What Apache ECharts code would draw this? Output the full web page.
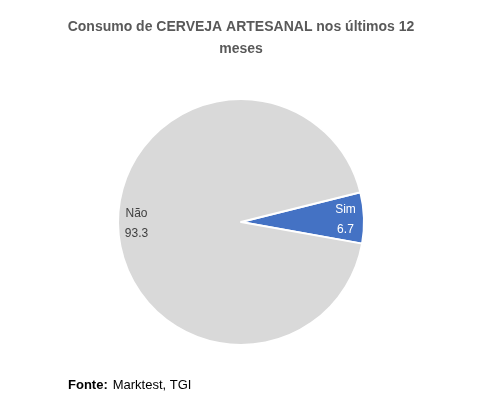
<!DOCTYPE html>
<html>
<head>
<meta charset="utf-8">
<script src="https://cdn.jsdelivr.net/npm/echarts@6/dist/echarts.min.js"></script>
<style>html,body{margin:0;padding:0;background:#fff}#c{width:482px;height:403px}</style>
</head>
<body>
<div id="c"></div>
<script>
var categories = ['Sim', 'Não'];
var values = [6.7, 93.3];
var colors = ['#4472C4', '#D9D9D9'];
var labelColors = ['#FFFFFF', '#404040'];
var titleText = 'Consumo de CERVEJA ARTESANAL nos últimos 12\nmeses';

var chart = echarts.init(document.getElementById('c'), null, {renderer: 'canvas'});
var data = categories.map(function (c, i) {
  return {
    name: c, value: values[i],
    itemStyle: {color: colors[i]},
    label: {color: labelColors[i]}
  };
});
chart.setOption({
  animation: false,
  backgroundColor: '#fff',
  title: [{
    text: titleText,
    left: 'center',
    top: 11,
    textStyle: {fontFamily: 'Liberation Sans', fontSize: 14, fontWeight: 'bold', color: '#595959', lineHeight: 22}
  }, {
    text: '{b|Fonte:} {n|Marktest, TGI}',
    left: 63,
    top: 371,
    textStyle: {
      fontWeight: 'normal',
      rich: {
        b: {fontFamily: 'Liberation Sans', fontSize: 13, fontWeight: 'bold', color: '#000'},
        n: {fontFamily: 'Liberation Sans', fontSize: 13, fontWeight: 'normal', color: '#000'}
      }
    }
  }],
  series: [{
    type: 'pie',
    center: [241, 222],
    radius: 123,
    startAngle: 14,
    clockwise: true,
    data: data,
    itemStyle: {borderColor: '#fff', borderWidth: 2},
    label: {
      show: true,
      position: 'inside',
      formatter: '{b}\n{c}',
      fontFamily: 'Liberation Sans',
      fontSize: 12,
      lineHeight: 20
    },
    labelLayout: function (p) {
      return {dx: p.dataIndex === 0 ? 40 : -40};
    },
    emphasis: {disabled: true}
  }]
});
</script>
</body>
</html>
